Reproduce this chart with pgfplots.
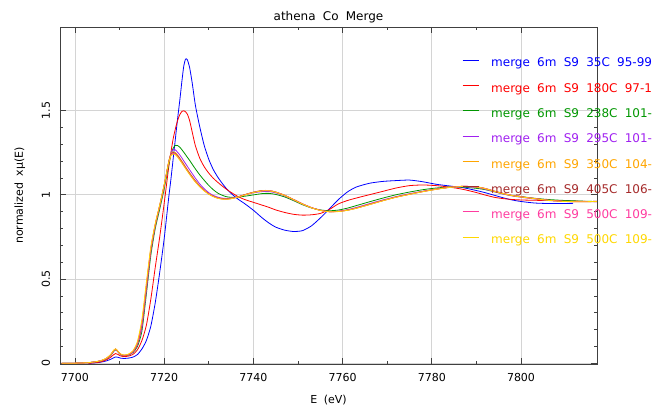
\documentclass[border=0pt]{standalone}
\usepackage{fontspec}
\setmainfont{DejaVu Sans}[WordSpace=1.9]
\usepackage{pgfplots}
\usepackage{pgfplotstable}
\pgfplotsset{compat=1.18}

\definecolor{cBlue}{RGB}{0,0,255}
\definecolor{cRed}{RGB}{255,0,0}
\definecolor{cGreen}{RGB}{0,150,0}
\definecolor{cPurple}{RGB}{160,32,240}
\definecolor{cOrange}{RGB}{255,165,0}
\definecolor{cBrown}{RGB}{165,42,42}
\definecolor{cPink}{RGB}{255,60,160}
\definecolor{cGold}{RGB}{255,215,0}

% Normalized Co K-edge XANES, merged scans (E in eV)
% columns: b=35C r=180C g=238C p=295C o=350C n=405C k=500C y=500C
\pgfplotstableread{
E       b      r      g      p      o      n      k      y
7697    nan    nan    0      0      0      0      0      0
7700    nan    nan    0.001  0.001  0.001  0.001  0.001  0.001
7703    0.000  0.000  0.004  0.004  0.004  0.004  0.004  0.004
7705    0.004  0.005  0.010  0.010  0.011  0.011  0.011  0.011
7706    0.008  0.010  0.016  0.016  0.017  0.017  0.018  0.018
7707    0.014  0.020  0.026  0.026  0.028  0.028  0.029  0.030
7708    0.024  0.036  0.046  0.047  0.050  0.050  0.051  0.052
7708.6  0.032  0.050  0.068  0.070  0.073  0.073  0.074  0.075
7709.1  0.038  0.058  0.080  0.082  0.085  0.084  0.085  0.086
7709.6  0.036  0.053  0.069  0.070  0.072  0.071  0.072  0.073
7710.2  0.031  0.044  0.052  0.053  0.055  0.054  0.055  0.056
7711    0.029  0.040  0.045  0.045  0.047  0.047  0.048  0.049
7712    0.031  0.043  0.049  0.050  0.052  0.052  0.053  0.055
7713    0.037  0.053  0.064  0.066  0.070  0.070  0.071  0.075
7714    0.052  0.080  0.100  0.110  0.115  0.118  0.120  0.130
7715    0.085  0.135  0.190  0.210  0.230  0.235  0.240  0.260
7716    0.135  0.225  0.410  0.430  0.450  0.455  0.460  0.480
7717    0.220  0.380  0.640  0.660  0.670  0.675  0.680  0.690
7718    0.360  0.570  0.800  0.815  0.820  0.822  0.825  0.830
7719    0.540  0.750  0.915  0.930  0.935  0.936  0.938  0.940
7720    0.740  0.950  1.035  1.050  1.055  1.056  1.058  1.060
7721    0.980  1.160  1.175  1.190  1.195  1.192  1.190  1.190
7721.5  1.090  1.250  1.235  1.245  1.243  1.238  1.235  1.232
7722    1.210  1.330  1.275  1.268  1.255  1.250  1.247  1.242
7722.5  1.330  1.390  1.293  1.266  1.250  1.245  1.242  1.237
7723    1.450  1.440  1.292  1.252  1.236  1.231  1.228  1.223
7723.5  1.560  1.475  1.282  1.236  1.218  1.213  1.210  1.205
7724    1.680  1.495  1.266  1.217  1.198  1.193  1.190  1.186
7724.4  1.765  1.498  1.252  1.200  1.182  1.177  1.174  1.170
7724.8  1.805  1.492  1.237  1.184  1.165  1.161  1.158  1.154
7725.2  1.800  1.478  1.222  1.168  1.149  1.145  1.142  1.139
7725.7  1.755  1.440  1.204  1.148  1.130  1.126  1.123  1.120
7726.3  1.660  1.370  1.180  1.125  1.108  1.104  1.101  1.098
7727    1.530  1.290  1.153  1.098  1.083  1.080  1.077  1.075
7728    1.400  1.215  1.117  1.063  1.052  1.050  1.048  1.046
7729    1.290  1.165  1.085  1.035  1.027  1.025  1.024  1.022
7730    1.210  1.128  1.055  1.012  1.006  1.005  1.004  1.003
7731    1.150  1.098  1.030  0.996  0.992  0.991  0.990  0.989
7732    1.105  1.074  1.010  0.986  0.982  0.981  0.980  0.979
7733    1.068  1.052  0.997  0.980  0.977  0.976  0.975  0.974
7734    1.035  1.032  0.988  0.978  0.976  0.975  0.974  0.973
7735    1.008  1.014  0.985  0.980  0.979  0.978  0.977  0.976
7736.5  0.975  0.990  0.986  0.987  0.988  0.987  0.986  0.985
7738    0.948  0.972  0.991  0.998  1.000  1.000  0.999  0.998
7740    0.908  0.955  0.999  1.011  1.015  1.015  1.014  1.013
7742    0.862  0.938  1.007  1.019  1.024  1.025  1.024  1.023
7743.5  0.832  0.925  1.008  1.019  1.024  1.025  1.025  1.024
7745    0.808  0.910  1.002  1.011  1.015  1.016  1.016  1.015
7747    0.790  0.895  0.987  0.993  0.996  0.997  0.997  0.996
7749    0.782  0.884  0.965  0.969  0.971  0.972  0.972  0.971
7751    0.787  0.879  0.941  0.944  0.945  0.946  0.946  0.945
7753    0.815  0.881  0.922  0.923  0.923  0.924  0.924  0.923
7755    0.862  0.889  0.910  0.908  0.907  0.908  0.908  0.907
7757    0.915  0.912  0.905  0.900  0.899  0.900  0.900  0.899
7759    0.970  0.945  0.909  0.902  0.901  0.901  0.901  0.900
7761    1.015  0.965  0.920  0.911  0.909  0.908  0.908  0.907
7763    1.045  0.980  0.935  0.924  0.921  0.920  0.920  0.919
7766    1.068  1.000  0.958  0.947  0.944  0.942  0.942  0.941
7769    1.079  1.020  0.980  0.969  0.966  0.965  0.965  0.964
7772    1.084  1.040  1.000  0.989  0.987  0.986  0.986  0.985
7775    1.087  1.054  1.016  1.006  1.004  1.003  1.003  1.002
7778    1.077  1.058  1.030  1.021  1.020  1.019  1.019  1.018
7781    1.062  1.054  1.040  1.034  1.034  1.033  1.033  1.032
7784    1.052  1.045  1.046  1.044  1.045  1.044  1.044  1.043
7787    1.042  1.032  1.045  1.048  1.050  1.050  1.050  1.049
7790    1.025  1.013  1.038  1.043  1.046  1.047  1.047  1.046
7792    1.012  0.998  1.030  1.032  1.035  1.037  1.037  1.036
7794    0.997  0.985  1.018  1.018  1.020  1.022  1.022  1.021
7796    0.982  0.977  1.005  1.004  1.006  1.008  1.008  1.007
7798    0.969  0.972  0.995  0.993  0.995  0.996  0.996  0.995
7800    0.960  0.969  0.989  0.985  0.987  0.988  0.988  0.987
7803    0.951  0.967  0.979  0.975  0.977  0.978  0.978  0.977
7806    0.948  0.966  0.972  0.966  0.968  0.968  0.968  0.967
7809    0.948  0.965  0.967  0.961  0.962  0.962  0.962  0.961
7811.7  0.949  0.963  0.964  0.958  0.959  0.960  0.960  0.959
7815    nan    0.960  0.961  0.958  0.959  0.960  0.960  0.959
7817    nan    0.959  0.960  0.959  0.960  0.961  0.961  0.960
}\xanes

\begin{document}
\begin{tikzpicture}
\begin{axis}[
  scale only axis,
  width=537bp, height=337bp,
  xmin=7696.64, xmax=7817.04,
  ymin=-0.004, ymax=1.995,
  font=\fontsize{11bp}{13bp}\selectfont,
  xtick={7700,7720,7740,7760,7780,7800},
  minor x tick num=1,
  ytick={0,0.5,1,1.5},
  minor y tick num=4,
  /pgf/number format/assume math mode=true,
  /pgf/number format/1000 sep={},
  grid=major,
  major grid style={draw=black!17, line width=0.9bp},
  tick align=inside,
  major tick length=6bp,
  minor tick length=3.5bp,
  every tick/.style={black!75, line width=0.7bp},
  axis line style={black!75, line width=0.9bp},
  xticklabel style={anchor=base, inner sep=0pt, yshift=-17bp},
  yticklabel style={rotate=90, anchor=base, inner sep=0pt, yshift=10bp},
  title={athena Co Merge},
  every axis title/.style={at={(axis description cs:0.5,1)}, anchor=base, inner sep=0pt, yshift=6bp,
    font=\fontsize{12bp}{14bp}\selectfont},
  xlabel={E (eV)},
  every axis x label/.style={at={(axis description cs:0.5,0)}, anchor=base, inner sep=0pt, yshift=-39bp},
  ylabel={normalized xμ(E)},
  every axis y label/.style={at={(axis description cs:0,0.5)}, rotate=90, anchor=base, inner sep=0pt, yshift=37bp},
  legend style={at={(0.7486,0.906)}, anchor=north west, draw=none, fill=none,
    inner sep=0pt, row sep=14.8bp, column sep=12bp,
    font=\fontsize{12bp}{14bp}\selectfont,
    nodes={inner sep=0pt, text height=8bp, text depth=2.5bp}},
  legend cell align=left,
  legend image code/.code={\draw[#1, line width=1bp] (0bp,4bp) -- (16bp,4bp);},
  every axis plot/.append style={line width=0.8bp, smooth, tension=0.4},
]
\addplot[color=cBlue]   table[x=E, y=b] {\xanes};
\addlegendentry{\textcolor{cBlue}{merge 6m S9 35C 95-99}}
\addplot[color=cRed]    table[x=E, y=r] {\xanes};
\addlegendentry{\textcolor{cRed}{merge 6m S9 180C 97-100}}
\addplot[color=cGreen]  table[x=E, y=g] {\xanes};
\addlegendentry{\textcolor{cGreen}{merge 6m S9 238C 101-104}}
\addplot[color=cPurple] table[x=E, y=p] {\xanes};
\addlegendentry{\textcolor{cPurple}{merge 6m S9 295C 101-104}}
\addplot[color=cOrange] table[x=E, y=o] {\xanes};
\addlegendentry{\textcolor{cOrange}{merge 6m S9 350C 104-107}}
\addplot[color=cBrown]  table[x=E, y=n] {\xanes};
\addlegendentry{\textcolor{cBrown}{merge 6m S9 405C 106-109}}
\addplot[color=cPink]   table[x=E, y=k] {\xanes};
\addlegendentry{\textcolor{cPink}{merge 6m S9 500C 109-112}}
\addplot[color=cGold]   table[x=E, y=y] {\xanes};
\addlegendentry{\textcolor{cGold}{merge 6m S9 500C 109-113}}
\end{axis}
\pgfresetboundingbox
\path[use as bounding box] (-60bp,-44bp) rectangle (592bp,364bp);
\end{tikzpicture}
\end{document}
